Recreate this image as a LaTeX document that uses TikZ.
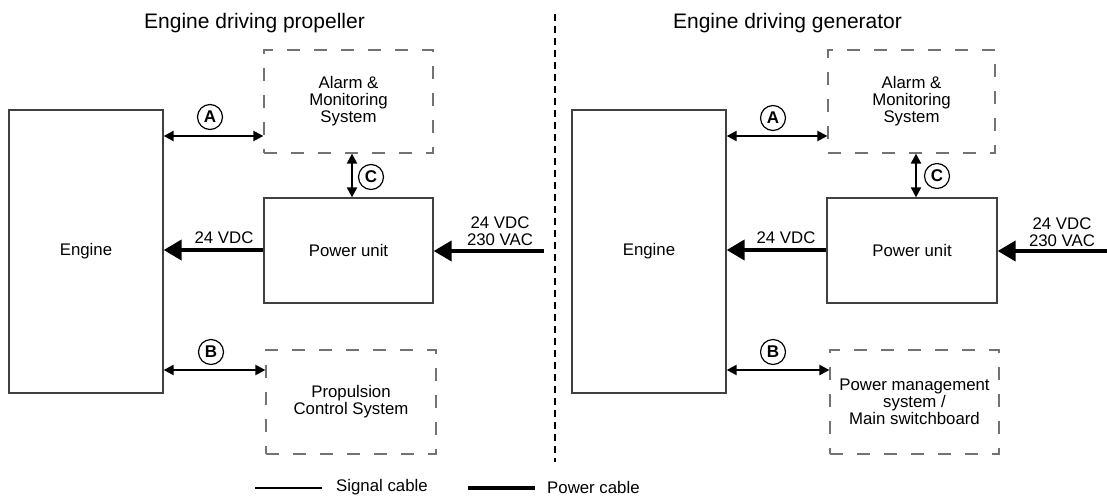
\documentclass[tikz,border=0pt]{standalone}
\usepackage{fontspec}
\setmainfont{Liberation Sans}
\usetikzlibrary{arrows.meta}
\begin{document}
\begin{tikzpicture}[x=1pt,y=-1pt,
  every node/.style={font=\fontsize{16.8}{17}\selectfont, inner sep=0pt, align=center},
  solidbox/.style={draw=black!75, line width=1.3pt},
  dashbox/.style={draw=black!55, line width=1.2pt, dash pattern=on 13pt off 14pt},
  sig/.style={draw=black, line width=2.2pt, {Triangle[length=10pt,width=10pt]}-{Triangle[length=10pt,width=10pt]}},
  pwr/.style={draw=black, line width=4pt, -{Triangle[length=18pt,width=20pt]}},
  circlbl/.style={circle, draw=black, line width=1.2pt, minimum size=25pt, font=\fontsize{17}{17}\bfseries\selectfont},
  titletext/.style={font=\fontsize{21}{21}\selectfont},
  divider/.style={draw=black, line width=2.2pt, dash pattern=on 7pt off 5pt},
  legline/.style={draw=black, line width=2pt},
  legpwr/.style={draw=black, line width=4pt},
]
\useasboundingbox (0,0) rectangle (1107,498);

% titles
\node[titletext] (t1) at (254.5,23) {Engine driving propeller};
\node[titletext] (t2) at (787.5,23) {Engine driving generator};

% divider
\coordinate (divTop) at (555,14);
\coordinate (divBot) at (555,462);
\draw[divider] (divTop) -- (divBot);

% ---------- left ----------
\node[solidbox, minimum width=154pt, minimum height=283pt] (engL) at (86,251.5) {Engine};
\node[dashbox, minimum width=169pt, minimum height=103pt] (alarmL) at (348.5,101.5) {Alarm \&\\Monitoring\\System};
\node[solidbox, minimum width=169pt, minimum height=105pt] (puL) at (348.5,250.5) {Power unit};
\node[dashbox, minimum width=170pt, minimum height=104pt] (propL) at (351,402) {Propulsion\\Control System};

\draw[sig] (engL.east |- 0,136) -- (alarmL.west |- 0,136);
\node[circlbl] (cAL) at (210,117) {A};
\draw[sig] (352,0 |- alarmL.south) -- (352,0 |- puL.north);
\node[circlbl] (cCL) at (371,177) {C};
\draw[pwr] (puL.west |- 0,250) -- (engL.east |- 0,250);
\node (v24L) at (224,238) {24 VDC};
\coordinate (inL) at (544,251);
\draw[pwr] (inL) -- (puL.east |- inL);
\node (inLblL) at (500,231.5) {24 VDC\\230 VAC};
\draw[sig] (engL.east |- 0,370) -- (propL.west |- 0,370);
\node[circlbl] (cBL) at (211,352) {B};

% ---------- right ----------
\node[solidbox, minimum width=154pt, minimum height=283pt] (engR) at (649,251.5) {Engine};
\node[dashbox, minimum width=167pt, minimum height=103pt] (alarmR) at (911.5,101.5) {Alarm \&\\Monitoring\\System};
\node[solidbox, minimum width=170pt, minimum height=105pt] (puR) at (912,250.5) {Power unit};
\node[dashbox, minimum width=169pt, minimum height=104pt] (pmsR) at (914.5,402) {Power management\\system /\\Main switchboard};

\draw[sig] (engR.east |- 0,136) -- (alarmR.west |- 0,136);
\node[circlbl] (cAR) at (773,118) {A};
\draw[sig] (916,0 |- alarmR.south) -- (916,0 |- puR.north);
\node[circlbl] (cCR) at (937,176) {C};
\draw[pwr] (puR.west |- 0,250) -- (engR.east |- 0,250);
\node (v24R) at (786,238) {24 VDC};
\coordinate (inR) at (1107,251);
\draw[pwr] (inR) -- (puR.east |- inR);
\node (inLblR) at (1062,232) {24 VDC\\230 VAC};
\draw[sig] (engR.east |- 0,370) -- (pmsR.west |- 0,370);
\node[circlbl] (cBR) at (773,352) {B};

% ---------- legend ----------
\coordinate (ls1) at (255,488);
\coordinate (ls2) at (322,488);
\draw[legline] (ls1) -- (ls2);
\node[anchor=west] (lsig) at (336,487) {Signal cable};
\coordinate (lp1) at (468,488);
\coordinate (lp2) at (535,488);
\draw[legpwr] (lp1) -- (lp2);
\node[anchor=west] (lpwr) at (547,487) {Power cable};
\end{tikzpicture}
\end{document}
